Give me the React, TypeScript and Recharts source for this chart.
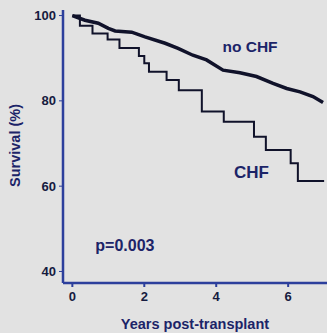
import React from 'react';
import { LineChart, Line, XAxis, YAxis, ReferenceDot } from 'recharts';

// no CHF survival curve (years, %)
const noChfYears = [0, 0.35, 0.72, 1.0, 1.19, 1.65, 2.02, 2.58, 2.94, 3.35, 3.73, 4.19, 4.66, 5.12, 5.58, 5.96, 6.33, 6.69, 6.97];
const noChfSurvival = [100, 98.9, 98.2, 97.0, 96.4, 96.1, 95.0, 93.5, 92.3, 90.7, 89.6, 87.2, 86.6, 85.7, 84.1, 82.9, 82.1, 81.0, 79.6];

// CHF survival curve (step times, survival after step)
const chfYears = [0, 0.21, 0.56, 0.98, 1.31, 1.85, 2.0, 2.13, 2.62, 2.96, 3.6, 4.21, 5.05, 5.38, 6.07, 6.27, 7.0];
const chfSurvival = [100, 97.6, 95.8, 94.4, 92.4, 90.5, 88.8, 86.8, 84.9, 82.5, 77.5, 75.1, 71.6, 68.5, 65.4, 61.2, 61.2];

const xTicks = [0, 2, 4, 6];
const yTicks = [40, 60, 80, 100];

const noChfData = noChfYears.map((t, i) => ({ t, s: noChfSurvival[i] }));
const chfData = chfYears.map((t, i) => ({ t, s: chfSurvival[i] }));

const AXIS = '#2c3f9c';
const NAVY = '#1c2468';
const BG = '#e2e2e2';

const tickStyle = { fontSize: 13, fontWeight: 700, fill: '#161b40', fontFamily: 'Liberation Sans, Arial, sans-serif' };

const YLabel = (props: any) => {
  const vb = props.viewBox || {};
  const x = vb.x + 20;
  const y = vb.y + vb.height / 2 - 1;
  return (
    <text x={x} y={y} transform={`rotate(-90, ${x}, ${y})`} textAnchor="middle"
      style={{ fontSize: 14.5, fontWeight: 700, fill: NAVY, fontFamily: 'Liberation Sans, Arial, sans-serif' }}>
      Survival (%)
    </text>
  );
};

const annoStyle = (size: number) => ({ fontSize: size, fontWeight: 700, fill: NAVY, fontFamily: 'Liberation Sans, Arial, sans-serif' });

export default function App() {
  return (
    <div style={{ position: 'absolute', left: 0, top: 0, width: 327, height: 333, background: BG }}>
      <LineChart width={327} height={333} margin={{ top: 10, right: 0, left: 0, bottom: 0 }}>
        <XAxis
          type="number"
          dataKey="t"
          domain={[-0.26, 7.08]}
          ticks={xTicks}
          allowDataOverflow
          height={50}
          tickSize={4}
          tickMargin={5}
          tick={tickStyle}
          axisLine={{ stroke: AXIS, strokeWidth: 2.5 }}
          tickLine={{ stroke: AXIS, strokeWidth: 2 }}
          label={{ value: 'Years post-transplant', position: 'insideBottom', offset: 4, style: annoStyle(14.5) }}
        />
        <YAxis
          type="number"
          dataKey="s"
          domain={[37.3, 101.3]}
          ticks={yTicks}
          allowDataOverflow
          width={63}
          tickSize={4}
          tickMargin={3}
          tick={tickStyle}
          axisLine={{ stroke: AXIS, strokeWidth: 2.5 }}
          tickLine={{ stroke: AXIS, strokeWidth: 1 }}
          label={<YLabel />}
        />
        <Line data={noChfData} dataKey="s" type="linear" stroke="#10122a" strokeWidth={3.5} dot={false} isAnimationActive={false} />
        <Line data={chfData} dataKey="s" type="stepAfter" stroke="#10122a" strokeWidth={2} dot={false} isAnimationActive={false} />
        <ReferenceDot x={4.94} y={92.7} r={0} stroke="none" fill="none" label={{ value: 'no CHF', position: 'center', style: annoStyle(15.5) }} />
        <ReferenceDot x={4.98} y={63.4} r={0} stroke="none" fill="none" label={{ value: 'CHF', position: 'center', style: annoStyle(17) }} />
        <ReferenceDot x={1.46} y={46.2} r={0} stroke="none" fill="none" label={{ value: 'p=0.003', position: 'center', style: annoStyle(16) }} />
      </LineChart>
    </div>
  );
}
